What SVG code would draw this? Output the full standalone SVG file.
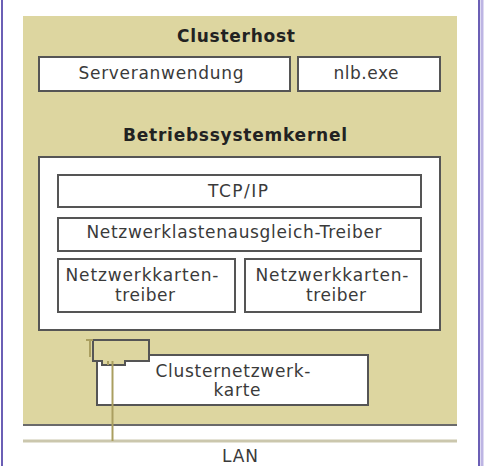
<svg xmlns="http://www.w3.org/2000/svg" width="485" height="466" viewBox="0 0 485 466">
<style>
.box{fill:#ffffff;stroke:#555555;stroke-width:2}
.t{font-family:"DejaVu Sans",Verdana,sans-serif;font-size:17px;fill:#3a3a3a;text-anchor:middle}
.b{font-family:"DejaVu Sans",Verdana,sans-serif;font-size:17px;font-weight:bold;fill:#222222;text-anchor:middle}
.olive{stroke:#aa9f60;stroke-width:2;fill:none}
</style>
<rect x="0" y="0" width="485" height="466" fill="#ffffff"/>
<line x1="2" y1="0" x2="2" y2="466" stroke="#6b5fb5" stroke-width="2"/>
<line x1="479" y1="0" x2="479" y2="466" stroke="#6b5fb5" stroke-width="2"/>
<line x1="482" y1="0" x2="482" y2="466" stroke="#bdb5e3" stroke-width="3"/>

<g id="clusterhost">
<rect x="23" y="16" width="434" height="409" fill="#ddd6a0"/>
<line x1="23" y1="425" x2="457" y2="425" stroke="#6a6a6a" stroke-width="2"/>
<text class="b" x="236" y="42" textLength="118" lengthAdjust="spacing">Clusterhost</text>
</g>
<g id="serveranwendung">
<rect class="box" x="39" y="57" width="251" height="34"/>
<text class="t" x="161" y="79" textLength="165" lengthAdjust="spacing">Serveranwendung</text>
</g>
<g id="nlb">
<rect class="box" x="298" y="57" width="142" height="34"/>
<text class="t" x="366" y="79" textLength="65" lengthAdjust="spacing">nlb.exe</text>
</g>
<g id="kernel-label">
<text class="b" x="235" y="141" textLength="224" lengthAdjust="spacing">Betriebssystemkernel</text>
</g>
<g id="kernel">
<rect class="box" x="39" y="157" width="401" height="173"/>
</g>
<g id="tcpip">
<rect class="box" x="58" y="175" width="363" height="32"/>
<text class="t" x="238" y="197" textLength="60" lengthAdjust="spacing">TCP/IP</text>
</g>
<g id="nlb-treiber">
<rect class="box" x="58" y="218" width="363" height="33"/>
<text class="t" x="234" y="238" textLength="295" lengthAdjust="spacing">Netzwerklastenausgleich-Treiber</text>
</g>
<g id="nic-treiber-1">
<rect class="box" x="58" y="259" width="177" height="53"/>
<text class="t" x="142" y="281" textLength="153" lengthAdjust="spacing">Netzwerkkarten-</text>
<text class="t" x="145" y="301" textLength="60" lengthAdjust="spacing">treiber</text>
</g>
<g id="nic-treiber-2">
<rect class="box" x="245" y="259" width="176" height="53"/>
<text class="t" x="332" y="281" textLength="153" lengthAdjust="spacing">Netzwerkkarten-</text>
<text class="t" x="336" y="301" textLength="60" lengthAdjust="spacing">treiber</text>
</g>
<g id="clusternetzwerkkarte">
<rect class="box" x="97" y="355" width="271" height="50"/>
<polygon points="93,340 149,340 149,361 125,361 125,365 102,365 102,361 93,361" fill="#ddd6a0" stroke="#555555" stroke-width="2"/>
<text class="t" x="233" y="377" textLength="155" lengthAdjust="spacing">Clusternetzwerk-</text>
<text class="t" x="237" y="396" textLength="47" lengthAdjust="spacing">karte</text>
</g>
<g id="lan">
<line x1="23" y1="441" x2="457" y2="441" stroke="#cbc7ad" stroke-width="3"/>
<text class="t" x="240" y="462" textLength="36" lengthAdjust="spacing">LAN</text>
</g>
<g id="connectors">
<line class="olive" x1="86" y1="340" x2="93" y2="340"/>
<line class="olive" x1="90" y1="340" x2="90" y2="357"/>
<line class="olive" x1="108" y1="361" x2="108" y2="365" stroke-width="1"/>
<line class="olive" x1="112.5" y1="361" x2="112.5" y2="441"/>
</g>
</svg>
